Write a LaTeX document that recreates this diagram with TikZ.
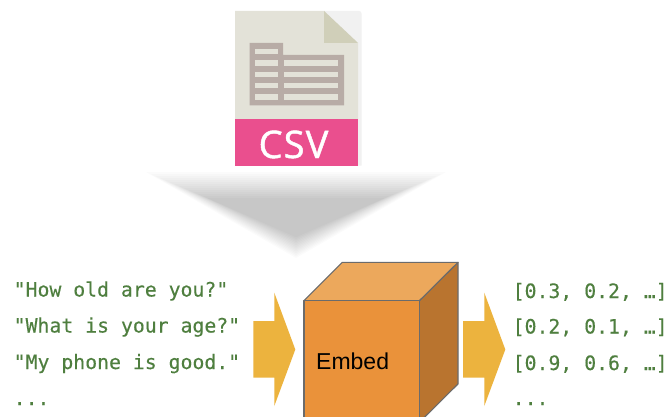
\documentclass[tikz,border=0pt]{standalone}
\usepackage{fontspec}
\setmainfont{Liberation Sans}
\newfontfamily\codefont[FakeBold=0.25]{DejaVu Sans Mono}
\newfontfamily\csvfont[LetterSpace=3,FakeBold=1.2]{Open Sans}
\definecolor{filebody}{HTML}{E3E2D8}
\definecolor{filefold}{HTML}{D0CFB9}
\definecolor{filecorner}{HTML}{F1F1F1}
\definecolor{filetable}{HTML}{B8ACA6}
\definecolor{filepink}{HTML}{EA4F8E}
\definecolor{codegreen}{HTML}{4F7F3F}
\definecolor{cubefront}{HTML}{EA923A}
\definecolor{cubetop}{HTML}{ECA85C}
\definecolor{cubeside}{HTML}{B9742F}
\definecolor{cubeline}{HTML}{6B6B6B}
\definecolor{arrowgold}{HTML}{ECB33E}
\tikzset{
  code/.style={anchor=base west,inner sep=0pt,text=codegreen,font=\codefont\fontsize{19.8}{24}\selectfont},
  cubeface/.style={draw=cubeline,line width=1.1pt,line join=round},
  cell/.style={fill=filebody,draw=none},
  goldarrow/.style={fill=arrowgold,draw=none}
}
\begin{document}
\begin{tikzpicture}[x=1pt,y=-1pt]
\useasboundingbox (0,0) rectangle (669,417);
\fill[white] (0,0) rectangle (669,417);
% file icon
\fill[filecorner] (324,11) -- (359,11) .. controls (360.5,11) and (361.5,12) .. (361.5,13.5) -- (361.5,165.5) -- (358,165.5) -- (358,43) -- cycle;
\fill[filebody] (235,11) -- (324,11) -- (358,43) -- (358,119) -- (235,119) -- cycle;
\fill[filefold] (324,11) -- (358,43) -- (324,43) -- cycle;
\fill[filepink] (235,119) rectangle (358,165.5);
\fill[filetable] (249.7,43) -- (283,43) -- (283,55) -- (344,55) -- (344,105.3) -- (249.7,105.3) -- cycle;
\foreach \ya/\yb in {49/54.3,60.3/65.7,71.7/77,82.7/88.3,94/99.7}{
  \fill[cell] (255.3,\ya) rectangle (278,\yb);
}
\foreach \ya/\yb in {60.3/65.7,71.7/77,82.7/88.3,94/99.7}{
  \fill[cell] (284,\ya) rectangle (338.3,\yb);
}
\node[anchor=base,inner sep=0pt,text=white,font=\csvfont\fontsize{38}{44}\selectfont] (csv) at (293.5,158) {CSV};
% blurred grey arrow
\foreach \t in {0,1,...,13}{
  \fill[black,opacity=0.0172] ({146+\t*4.7},{172+\t*2}) -- ({446-\t*4.7},{172+\t*2}) -- (296,{258-\t*1.6}) -- cycle;
}
% input text
\node[code] (in1) at (13.5,296.5) {"How old are you?"};
\node[code] (in2) at (13.5,332.5) {"What is your age?"};
\node[code] (in3) at (13.5,369) {"My phone is good."};
\node[code] (in4) at (13.5,405) {...};
% arrows
\fill[goldarrow] (253.3,321) -- (274.3,321) -- (274.3,292.7) -- (295.3,349.5) -- (274.3,406) -- (274.3,377.7) -- (253.3,377.7) -- cycle;
\fill[goldarrow] (463,321) -- (484.3,321) -- (484.3,292.7) -- (505.3,349.5) -- (484.3,406) -- (484.3,377.7) -- (463,377.7) -- cycle;
% cube
\begin{scope}
\clip (0,0) rectangle (669,417);
\draw[cubeface,fill=cubeside] (419.3,300.7) -- (458,262.3) -- (458,384) -- (419.3,422.4) -- cycle;
\draw[cubeface,fill=cubetop] (304,300.7) -- (342.3,262.3) -- (458,262.3) -- (419.3,300.7) -- cycle;
\draw[cubeface,fill=cubefront] (304,300.7) rectangle (419.3,422.4);
\end{scope}
\node[anchor=base west,inner sep=0pt,font=\fontsize{23}{28}\selectfont,text=black] (embed) at (316,369) {Embed};
% output text
\node[code] (out1) at (512.5,298) {[0.3, 0.2, …]};
\node[code] (out2) at (512.5,333.5) {[0.2, 0.1, …]};
\node[code] (out3) at (512.5,370) {[0.9, 0.6, …]};
\node[code] (out4) at (512.5,405) {...};
\end{tikzpicture}
\end{document}
